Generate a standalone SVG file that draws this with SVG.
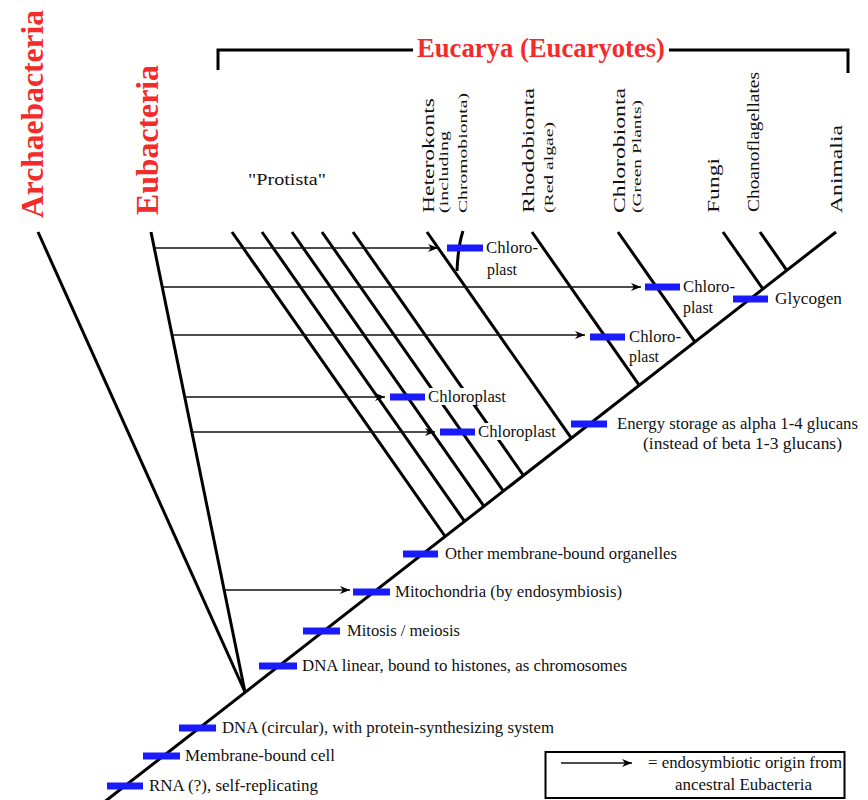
<svg xmlns="http://www.w3.org/2000/svg" width="868" height="800" viewBox="0 0 868 800">
<defs>
<style>
.ln{stroke:#000;stroke-width:3;fill:none;stroke-linecap:butt}
.ar{stroke:#111;stroke-width:1.6;fill:none;marker-end:url(#ah)}
.bar{fill:#1a1aff}
.t{font-family:"Liberation Serif","Times New Roman",serif;font-size:16.5px;fill:#111}
.ts{font-family:"Liberation Serif","Times New Roman",serif;font-size:12.5px;fill:#111}
.tm{font-family:"Liberation Serif","Times New Roman",serif;font-size:16px;fill:#111}
.red{font-family:"Liberation Serif","Times New Roman",serif;font-weight:bold;fill:#f52a2a}
.bg{fill:#fff}
</style>
<marker id="ah" markerUnits="userSpaceOnUse" markerWidth="12" markerHeight="10" refX="10" refY="4" orient="auto">
<path d="M0,0 L10,4 L0,8 L3,4 z" fill="#000"/>
</marker>
</defs>
<rect width="868" height="800" fill="#fff"/>

<g id="lineages">
<line class="ln" x1="103" y1="803" x2="836" y2="232"/>
<line class="ln" x1="38" y1="232" x2="245" y2="692"/>
<line class="ln" x1="151" y1="232" x2="245" y2="692"/>
<line class="ln" x1="232" y1="232" x2="445.2" y2="536.5"/>
<line class="ln" x1="262" y1="232" x2="464.6" y2="521.4"/>
<line class="ln" x1="292" y1="232" x2="484" y2="506.3"/>
<line class="ln" x1="322" y1="232" x2="503.4" y2="491.2"/>
<line class="ln" x1="353" y1="232" x2="523.5" y2="475.5"/>
<line class="ln" x1="427" y1="232" x2="571.3" y2="438.2"/>
<path class="ln" d="M463,231 Q458,246 457,271"/>
<line class="ln" x1="532" y1="232" x2="639.3" y2="385.3"/>
<line class="ln" x1="618" y1="232" x2="694.9" y2="341.9"/>
<line class="ln" x1="723" y1="232" x2="762.9" y2="289"/>
<line class="ln" x1="760" y1="232" x2="786.8" y2="270.3"/>
</g>

<g id="eucarya-bracket">
<polyline class="ln" points="218,70 218,50 413,50"/>
<polyline class="ln" points="669,50 848,50 848,73"/>
<text class="red" x="417" y="57" font-size="28" textLength="248" lengthAdjust="spacingAndGlyphs">Eucarya (Eucaryotes)</text>
</g>

<g id="archaebacteria">
<text class="red" font-size="31" transform="translate(43,218) rotate(-90)" textLength="208" lengthAdjust="spacingAndGlyphs">Archaebacteria</text>
</g>
<g id="eubacteria">
<text class="red" font-size="31" transform="translate(158,215) rotate(-90)" textLength="150" lengthAdjust="spacingAndGlyphs">Eubacteria</text>
</g>
<g id="protista">
<text class="t" x="248" y="185" font-size="19" textLength="78" lengthAdjust="spacingAndGlyphs">"Protista"</text>
</g>
<g id="heterokonts">
<text class="tm" transform="translate(434,213) rotate(-90)" textLength="115" lengthAdjust="spacingAndGlyphs">Heterokonts</text>
<text class="ts" transform="translate(448,213) rotate(-90)" textLength="82" lengthAdjust="spacingAndGlyphs">(including</text>
<text class="ts" transform="translate(467,213) rotate(-90)" textLength="120" lengthAdjust="spacingAndGlyphs">Chromobionta)</text>
</g>
<g id="rhodobionta">
<text class="tm" transform="translate(534,213) rotate(-90)" textLength="125" lengthAdjust="spacingAndGlyphs">Rhodobionta</text>
<text class="ts" transform="translate(553,213) rotate(-90)" textLength="91" lengthAdjust="spacingAndGlyphs">(Red algae)</text>
</g>
<g id="chlorobionta">
<text class="tm" transform="translate(625,213) rotate(-90)" textLength="125" lengthAdjust="spacingAndGlyphs">Chlorobionta</text>
<text class="ts" transform="translate(641,213) rotate(-90)" textLength="113" lengthAdjust="spacingAndGlyphs">(Green Plants)</text>
</g>
<g id="fungi">
<text class="tm" transform="translate(719,213) rotate(-90)" textLength="55" lengthAdjust="spacingAndGlyphs">Fungi</text>
</g>
<g id="choanoflagellates">
<text class="tm" transform="translate(759,212) rotate(-90)" textLength="140" lengthAdjust="spacingAndGlyphs">Choanoflagellates</text>
</g>
<g id="animalia">
<text class="tm" transform="translate(842,213) rotate(-90)" textLength="88" lengthAdjust="spacingAndGlyphs">Animalia</text>
</g>

<g id="connectors">
<line class="ar" x1="154.3" y1="248" x2="438" y2="248"/>
<line class="ar" x1="162.2" y1="287" x2="641" y2="287"/>
<line class="ar" x1="172" y1="335" x2="585" y2="335"/>
<line class="ar" x1="184.7" y1="397" x2="385" y2="397"/>
<line class="ar" x1="191.9" y1="432" x2="435" y2="432"/>
<line class="ar" x1="224.2" y1="590" x2="350" y2="590"/>
</g>

<g id="c-rna"><rect class="bar" x="107" y="782.5" width="36" height="7"/><text class="t" x="149" y="791" textLength="169" lengthAdjust="spacingAndGlyphs">RNA (?), self-replicating</text></g>
<g id="c-membrane"><rect class="bar" x="143" y="752.5" width="37" height="7"/><text class="t" x="185" y="761" textLength="150" lengthAdjust="spacingAndGlyphs">Membrane-bound cell</text></g>
<g id="c-dnacirc"><rect class="bar" x="179" y="724.5" width="37" height="7"/><text class="t" x="222" y="733" textLength="332" lengthAdjust="spacingAndGlyphs">DNA (circular), with protein-synthesizing system</text></g>
<g id="c-dnalin"><rect class="bar" x="259" y="662.5" width="38" height="7"/><text class="t" x="302" y="671" textLength="325" lengthAdjust="spacingAndGlyphs">DNA linear, bound to histones, as chromosomes</text></g>
<g id="c-mitosis"><rect class="bar" x="303" y="627.5" width="37" height="7"/><text class="t" x="347" y="636" textLength="113" lengthAdjust="spacingAndGlyphs">Mitosis / meiosis</text></g>
<g id="c-mito"><rect class="bar" x="353" y="588.5" width="37" height="7"/><text class="t" x="395" y="597" textLength="227" lengthAdjust="spacingAndGlyphs">Mitochondria (by endosymbiosis)</text></g>
<g id="c-other"><rect class="bar" x="403" y="550.5" width="35" height="7"/><text class="t" x="445" y="559" textLength="232" lengthAdjust="spacingAndGlyphs">Other membrane-bound organelles</text></g>
<g id="c-energy"><rect class="bar" x="571" y="420.5" width="36" height="7"/><text class="t" x="617" y="429" textLength="241" lengthAdjust="spacingAndGlyphs">Energy storage as alpha 1-4 glucans</text><text class="t" x="643" y="449" textLength="199" lengthAdjust="spacingAndGlyphs">(instead of beta 1-3 glucans)</text></g>
<g id="c-glycogen"><rect class="bar" x="733" y="295.5" width="35" height="7"/><text class="t" x="775" y="304" textLength="67" lengthAdjust="spacingAndGlyphs">Glycogen</text></g>
<g id="c-chl1"><rect class="bar" x="447" y="244.5" width="36" height="7"/><text class="t" x="486" y="253" textLength="52" lengthAdjust="spacingAndGlyphs">Chloro-</text><text class="t" x="487" y="275" textLength="30" lengthAdjust="spacingAndGlyphs">plast</text></g>
<g id="c-chl2"><rect class="bar" x="645" y="283.5" width="35" height="7"/><text class="t" x="683" y="292" textLength="52" lengthAdjust="spacingAndGlyphs">Chloro-</text><text class="t" x="683" y="313" textLength="30" lengthAdjust="spacingAndGlyphs">plast</text></g>
<g id="c-chl3"><rect class="bar" x="590" y="333.5" width="35" height="7"/><text class="t" x="629" y="342" textLength="52" lengthAdjust="spacingAndGlyphs">Chloro-</text><text class="t" x="629" y="362" textLength="30" lengthAdjust="spacingAndGlyphs">plast</text></g>
<g id="c-chl4"><rect class="bg" x="427" y="388" width="80" height="17"/><rect class="bar" x="390" y="393.5" width="35" height="7"/><text class="t" x="428" y="402" textLength="78" lengthAdjust="spacingAndGlyphs">Chloroplast</text></g>
<g id="c-chl5"><rect class="bg" x="477" y="423" width="80" height="17"/><rect class="bar" x="440" y="428.5" width="35" height="7"/><text class="t" x="478" y="437" textLength="78" lengthAdjust="spacingAndGlyphs">Chloroplast</text></g>

<g id="legend">
<rect x="545.5" y="752" width="299" height="46" fill="#fff" stroke="#000" stroke-width="2"/>
<line class="ar" x1="561" y1="763" x2="632" y2="763"/>
<text class="t" x="648" y="768" textLength="194" lengthAdjust="spacingAndGlyphs">= endosymbiotic origin from</text>
<text class="t" x="675" y="790" textLength="137" lengthAdjust="spacingAndGlyphs">ancestral Eubacteria</text>
</g>
</svg>
